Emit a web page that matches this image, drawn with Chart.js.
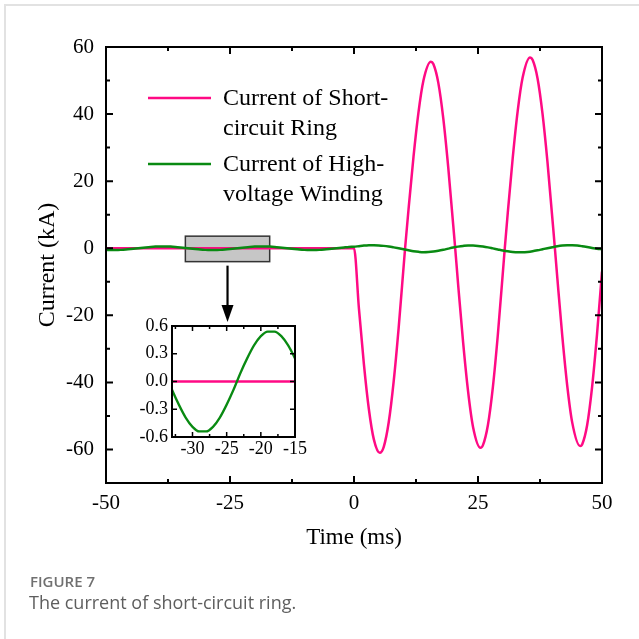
<!DOCTYPE html>
<html><head><meta charset="utf-8">
<script src="https://cdn.jsdelivr.net/npm/chart.js@4/dist/chart.umd.min.js"></script>
<style>
html,body{margin:0;padding:0;background:#fff;}
#wrap{position:relative;width:639px;height:639px;overflow:hidden;background:#fff;}
#frame{position:absolute;left:4px;top:4px;width:700px;height:700px;border-top:2px solid #e2e2e2;border-left:2px solid #e2e2e2;}
#main{position:absolute;left:0;top:0;}
#inset{position:absolute;left:115px;top:310px;}
#cap1{position:absolute;left:30px;top:571px;font:600 15px "Open Sans";color:#707070;}
#cap2{position:absolute;left:29px;top:590px;font:400 18px "Open Sans";color:#5e5e5e;}
</style></head>
<body>
<div id="wrap">
<div id="frame"></div>
<canvas id="main" width="639" height="639"></canvas>
<canvas id="inset" width="200" height="155"></canvas>
<div id="cap1">FIGURE 7</div>
<div id="cap2">The current of short-circuit ring.</div>
</div>
<script>
// ---------- data ----------
const seriesNames = [["Current of Short-", "circuit Ring"], ["Current of High-", "voltage Winding"]];

const timeTickLabels = [-50, -25, 0, 25, 50];
const timeMinorTicks = [-37.5, -12.5, 12.5, 37.5];
const currentTickLabels = [-60, -40, -20, 0, 20, 40, 60];
const currentMinorTicks = [-50, -30, -10, 10, 30, 50];

const insetTimeTicks = [-30, -25, -20, -15];
const insetTimeMinor = [-32.5, -27.5, -22.5, -17.5];
const insetCurrentTicks = [-0.6, -0.3, 0, 0.3, 0.6];

// Short-circuit ring current (kA)
const ringTimeMs = [-50, 0, 1, 2, 3, 4, 5.2, 6, 7, 8, 9, 10.3, 11, 12, 13, 14, 15.5, 16, 17, 18, 19, 20.4,
  21, 22, 23, 24, 25.5, 26, 27, 28, 29, 30.4, 31, 32, 33, 34, 35.5, 36, 37, 38, 39, 40.5,
  41, 42, 43, 44, 45.6, 46, 47, 48, 49, 50];
const ringCurrentKA = [0, 0, -18.1, -34.6, -48, -57, -61, -59.2, -51.9, -39.7, -23.8, 0, 11.7, 27.3, 40.5, 50, 55.6, 54.9, 49.3, 38.7, 24.1, 0,
  -10.9, -28.1, -42.7, -53.3, -59.5, -58.7, -52.7, -41.4, -25.8, 0, 10.5, 26.9, 40.9, 50.9, 56.9, 56.2, 50.7, 40.2, 25.8, 0,
  -9, -26.3, -41.1, -52, -59, -58.5, -52.8, -41.4, -25.6, -7];

// High-voltage winding current (kA)
const windingTimeMs = [-50, -49, -48, -47, -46, -45, -44, -43, -42, -41, -40, -39, -38, -37, -36, -35, -34, -33, -32, -31,
  -30, -29, -28, -27, -26, -25, -24, -23, -22, -21, -20, -19, -18, -17, -16, -15, -14, -13, -12, -11,
  -10, -9, -8, -7, -6, -5, -4, -3, -2, -1, 0, 1, 2, 3, 4, 5, 6, 7, 8, 9,
  10, 11, 12, 13, 14, 15, 16, 17, 18, 19, 20, 21, 22, 23, 24, 25, 26, 27, 28, 29,
  30, 31, 32, 33, 34, 35, 36, 37, 38, 39, 40, 41, 42, 43, 44, 45, 46, 47, 48, 49, 50];
const windingCurrentKA = [-0.49, -0.54, -0.54, -0.49, -0.39, -0.25, -0.09, 0.09, 0.25, 0.39, 0.49, 0.54, 0.54, 0.49, 0.39, 0.25, 0.09, -0.09, -0.25, -0.39,
  -0.49, -0.54, -0.54, -0.49, -0.39, -0.25, -0.09, 0.09, 0.25, 0.39, 0.49, 0.54, 0.54, 0.49, 0.39, 0.25, 0.09, -0.09, -0.25, -0.39,
  -0.49, -0.54, -0.54, -0.49, -0.39, -0.25, -0.09, 0.09, 0.25, 0.39, 0.45, 0.62, 0.78, 0.88, 0.9, 0.84, 0.7, 0.5, 0.25, -0.02,
  -0.3, -0.6, -0.88, -1.08, -1.2, -1.15, -1.0, -0.75, -0.45, -0.12, 0.2, 0.48, 0.68, 0.8, 0.8, 0.7, 0.5, 0.25, -0.05, -0.35,
  -0.65, -0.9, -1.1, -1.2, -1.2, -1.1, -0.9, -0.62, -0.3, 0.02, 0.32, 0.6, 0.8, 0.9, 0.9, 0.8, 0.6, 0.36, 0.1, -0.15, -0.3];

// zoomed window marked in the main plot (data units)
const zoomBoxTime = [-34, -17];
const zoomBoxCurrent = [-4, 3.6];
const arrowTipCurrent = -22;

// ---------- helpers ----------
const PINK = '#ff0a84';
const GREEN = '#098a12';
const SERIF = '"Liberation Serif", "Times New Roman", serif';
const pts = (xs, ys) => xs.map((t, i) => ({x: t, y: ys[i]}));

const frameTicks = {
  id: 'frameTicks',
  afterDatasetsDraw(chart, args, o) {
    const {ctx, chartArea: a, scales: {x, y}} = chart;
    ctx.save();
    ctx.strokeStyle = '#000';
    ctx.lineWidth = o.tickWidth;
    ctx.beginPath();
    const xt = (list, len) => list.forEach(v => {
      const px = x.getPixelForValue(v);
      ctx.moveTo(px, a.bottom); ctx.lineTo(px, a.bottom - len);
      ctx.moveTo(px, a.top); ctx.lineTo(px, a.top + len);
    });
    const yt = (list, len) => list.forEach(v => {
      const py = y.getPixelForValue(v);
      ctx.moveTo(a.left, py); ctx.lineTo(a.left + len, py);
      ctx.moveTo(a.right, py); ctx.lineTo(a.right - len, py);
    });
    xt(o.majorX, o.majorLen); xt(o.minorX, o.minorLen);
    yt(o.majorY, o.majorLen); yt(o.minorY, o.minorLen);
    ctx.stroke();
    ctx.lineWidth = o.border;
    ctx.strokeRect(a.left, a.top, a.right - a.left, a.bottom - a.top);
    ctx.restore();
  }
};

const zoomMarker = {
  id: 'zoomMarker',
  beforeDatasetsDraw(chart) {
    const {ctx, scales: {x, y}} = chart;
    const x0 = x.getPixelForValue(zoomBoxTime[0]), x1 = x.getPixelForValue(zoomBoxTime[1]);
    const y0 = y.getPixelForValue(zoomBoxCurrent[1]), y1 = y.getPixelForValue(zoomBoxCurrent[0]);
    ctx.save();
    ctx.fillStyle = '#c6c6c6';
    ctx.fillRect(x0, y0, x1 - x0, y1 - y0);
    ctx.strokeStyle = '#333';
    ctx.lineWidth = 1.5;
    ctx.strokeRect(x0, y0, x1 - x0, y1 - y0);
    ctx.restore();
  },
  afterDatasetsDraw(chart) {
    const {ctx, scales: {x, y}} = chart;
    const ax = x.getPixelForValue((zoomBoxTime[0] + zoomBoxTime[1]) / 2);
    const ay0 = y.getPixelForValue(zoomBoxCurrent[0]) + 4;
    const ay1 = y.getPixelForValue(arrowTipCurrent);
    ctx.save();
    ctx.strokeStyle = '#000';
    ctx.fillStyle = '#000';
    ctx.lineWidth = 2.2;
    ctx.beginPath();
    ctx.moveTo(ax, ay0); ctx.lineTo(ax, ay1 - 12);
    ctx.stroke();
    ctx.beginPath();
    ctx.moveTo(ax - 6, ay1 - 17); ctx.lineTo(ax + 6, ay1 - 17); ctx.lineTo(ax, ay1);
    ctx.closePath();
    ctx.fill();
    ctx.restore();
  }
};

const seriesLegend = {
  id: 'seriesLegend',
  afterDraw(chart) {
    const ctx = chart.ctx;
    ctx.save();
    ctx.font = '24px ' + SERIF;
    ctx.textBaseline = 'middle';
    ctx.fillStyle = '#000';
    const rows = [98, 164];
    chart.data.datasets.forEach((ds, i) => {
      const yy = rows[i];
      ctx.strokeStyle = ds.borderColor;
      ctx.lineWidth = 2.5;
      ctx.beginPath();
      ctx.moveTo(148, yy); ctx.lineTo(211, yy);
      ctx.stroke();
      seriesNames[i].forEach((line, k) => ctx.fillText(line, 223, yy + 1 + k * 30));
    });
    ctx.restore();
  }
};

const whiteArea = {
  id: 'whiteArea',
  beforeDraw(chart) {
    const {ctx, chartArea: a} = chart;
    ctx.save();
    ctx.fillStyle = '#fff';
    ctx.fillRect(a.left, a.top, a.right - a.left, a.bottom - a.top);
    ctx.restore();
  }
};

const ringData = pts(ringTimeMs, ringCurrentKA);
const windingData = pts(windingTimeMs, windingCurrentKA);

function lineSets(width) {
  return [
    {label: seriesNames[0].join(''), data: ringData, borderColor: PINK, borderWidth: width, order: 1,
     pointRadius: 0, cubicInterpolationMode: 'monotone', fill: false},
    {label: seriesNames[1].join(''), data: windingData, borderColor: GREEN, borderWidth: width, order: 0,
     pointRadius: 0, cubicInterpolationMode: 'monotone', fill: false}
  ];
}

// ---------- main chart ----------
new Chart(document.getElementById('main'), {
  type: 'line',
  data: {datasets: lineSets(2.5)},
  plugins: [zoomMarker, frameTicks, seriesLegend],
  options: {
    responsive: false, animation: false, devicePixelRatio: 1,
    layout: {padding: {top: 47, right: 37, left: 0, bottom: 0}},
    plugins: {
      legend: {display: false}, tooltip: {enabled: false},
      frameTicks: {majorX: timeTickLabels, minorX: timeMinorTicks, majorY: currentTickLabels, minorY: currentMinorTicks,
                   majorLen: 7, minorLen: 4, tickWidth: 2, border: 2}
    },
    scales: {
      x: {
        type: 'linear', min: -50, max: 50,
        afterFit: s => { s.height = 156; },
        afterBuildTicks: s => { s.ticks = timeTickLabels.map(v => ({value: v})); },
        grid: {display: false, drawTicks: false}, border: {display: false},
        ticks: {font: {family: SERIF, size: 21}, color: '#000', padding: 8, maxRotation: 0, autoSkip: false},
        title: {display: true, text: 'Time (ms)', font: {family: SERIF, size: 23}, color: '#000', padding: {top: 0, bottom: 87}}
      },
      y: {
        type: 'linear', min: -70, max: 60,
        afterFit: s => { s.width = 106; },
        afterBuildTicks: s => { s.ticks = currentTickLabels.map(v => ({value: v})); },
        grid: {display: false, drawTicks: false}, border: {display: false},
        ticks: {font: {family: SERIF, size: 21}, color: '#000', padding: 12, autoSkip: false},
        title: {display: true, text: 'Current (kA)', font: {family: SERIF, size: 24}, color: '#000', padding: {top: 33, bottom: 0}}
      }
    }
  }
});

// ---------- inset chart ----------
new Chart(document.getElementById('inset'), {
  type: 'line',
  data: {datasets: lineSets(2.3)},
  plugins: [whiteArea, frameTicks],
  options: {
    responsive: false, animation: false, devicePixelRatio: 1,
    layout: {padding: {top: 16, right: 20, left: 0, bottom: 0}},
    plugins: {
      legend: {display: false}, tooltip: {enabled: false},
      frameTicks: {majorX: insetTimeTicks, minorX: insetTimeMinor, majorY: insetCurrentTicks, minorY: [],
                   majorLen: 5, minorLen: 3, tickWidth: 1.5, border: 2}
    },
    scales: {
      x: {
        type: 'linear', min: -33, max: -15,
        afterFit: s => { s.height = 28; },
        afterBuildTicks: s => { s.ticks = insetTimeTicks.map(v => ({value: v})); },
        grid: {display: false, drawTicks: false}, border: {display: false},
        ticks: {font: {family: SERIF, size: 18}, color: '#000', padding: 1, maxRotation: 0, autoSkip: false}
      },
      y: {
        type: 'linear', min: -0.6, max: 0.6,
        afterFit: s => { s.width = 57; },
        afterBuildTicks: s => { s.ticks = insetCurrentTicks.map(v => ({value: v})); },
        grid: {display: false, drawTicks: false}, border: {display: false},
        ticks: {font: {family: SERIF, size: 18}, color: '#000', padding: 4, autoSkip: false,
                callback: v => v.toFixed(1)}
      }
    }
  }
});
</script>
</body></html>
